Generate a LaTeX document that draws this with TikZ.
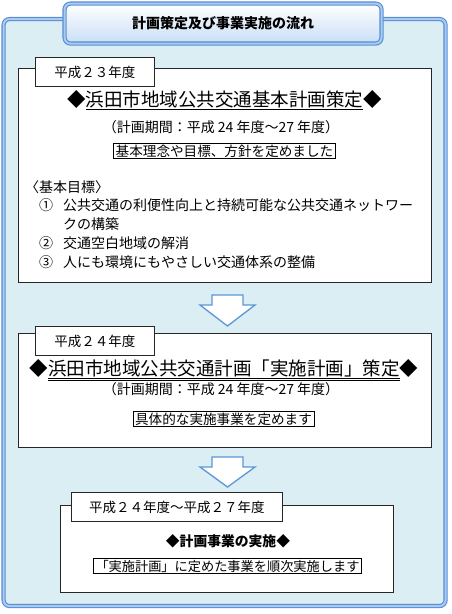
\documentclass[tikz,border=0pt]{standalone}
\usepackage{fontspec}
\setmainfont{Noto Sans CJK JP}
\definecolor{framefill}{RGB}{218,238,243}
\definecolor{bdark}{RGB}{85,142,213}
\definecolor{blight}{RGB}{172,202,240}
\definecolor{tbot}{RGB}{200,222,246}
\definecolor{arrowline}{RGB}{91,150,215}
\tikzset{
  dblframe/.style={draw=bdark, double=blight, double distance=2pt, line width=1.1pt, rounded corners=6pt, inner sep=0pt},
  stagebox/.style={draw=black!85, line width=0.8pt, fill=white, anchor=north west, inner sep=0pt},
  tabbox/.style={draw=black!85, line width=0.8pt, fill=white, inner sep=0pt, font=\fontsize{13.5}{15}\selectfont},
  bigtitle/.style={inner sep=0pt, font=\fontsize{18.5}{20}\selectfont},
  body/.style={inner sep=0pt, font=\fontsize{14}{16}\selectfont},
  framed/.style={draw=black, line width=0.8pt, fill=white, inner xsep=2pt, inner ysep=1.5pt, font=\fontsize{13.6}{15}\selectfont},
  flowarrow/.style={draw=arrowline, line width=1.3pt, fill=white, line join=miter}
}
\begin{document}
\begin{tikzpicture}[x=1pt,y=-1pt]
\useasboundingbox (0,0) rectangle (451,614);
% outer frame
\node[dblframe, fill=framefill, minimum width=442pt, minimum height=587pt, anchor=north west] (frame) at (3,18.5) {};
% title box
\node[dblframe, top color=white, bottom color=tbot, minimum width=317pt, minimum height=40pt, anchor=north west,
      font=\fontsize{14}{16}\selectfont\bfseries] (title) at (64,3) {計画策定及び事業実施の流れ};

% ---- stage 1
\node[stagebox, minimum width=413pt, minimum height=214pt] (s1) at (18,68) {};
\node[tabbox, minimum width=119pt, minimum height=29pt, anchor=north west] (t1) at (35,57) {平成２３年度};
\node[bigtitle] (h1) at (224.5,100) {◆\underline{浜田市地域公共交通基本計画策定}◆};
\node[body] (p1) at (221,127) {（計画期間：平成 24 年度～27 年度）};
\node[framed] (k1) at (224.5,151) {基本理念や目標、方針を定めました};
\node[body, anchor=west] (g0) at (25,187) {〈基本目標〉};
\node[body, anchor=west] (n1) at (39,205) {①};
\node[body, anchor=west] (g1) at (63,205) {公共交通の利便性向上と持続可能な公共交通ネットワー};
\node[body, anchor=west] (g1b) at (63,224) {クの構築};
\node[body, anchor=west] (n2) at (39,243) {②};
\node[body, anchor=west] (g2) at (63,243) {交通空白地域の解消};
\node[body, anchor=west] (n3) at (39,262) {③};
\node[body, anchor=west] (g3) at (63,262) {人にも環境にもやさしい交通体系の整備};

% arrow 1
\draw[flowarrow] (212,295) -- (243,295) -- (243,305) -- (255,305) -- (227.5,326) -- (200,305) -- (212,305) -- cycle;

% ---- stage 2
\node[stagebox, minimum width=413pt, minimum height=114pt] (s2) at (18,333) {};
\node[tabbox, minimum width=119pt, minimum height=29pt, anchor=north west] (t2) at (35,326) {平成２４年度};
\node[bigtitle] (h2) at (224,370) {◆\underline{\underline{浜田市地域公共交通計画「実施計画」策定}}◆};
\node[body] (p2) at (221,389) {（計画期間：平成 24 年度～27 年度）};
\node[framed] (k2) at (223.5,419) {具体的な実施事業を定めます};

% arrow 2
\draw[flowarrow] (212,457) -- (243,457) -- (243,467) -- (255,467) -- (227.5,487) -- (200,467) -- (212,467) -- cycle;

% ---- stage 3
\node[stagebox, minimum width=333pt, minimum height=87pt] (s3) at (60,505) {};
\node[tabbox, minimum width=211pt, minimum height=29pt, anchor=north west] (t3) at (71,492) {平成２４年度～平成２７年度};
\node[inner sep=0pt, font=\fontsize{13.8}{15}\selectfont\bfseries] (h3) at (228,541) {◆計画事業の実施◆};
\node[framed, font=\fontsize{13.2}{15}\selectfont] (k3) at (227.5,566) {「実施計画」に定めた事業を順次実施します};
\end{tikzpicture}
\end{document}
